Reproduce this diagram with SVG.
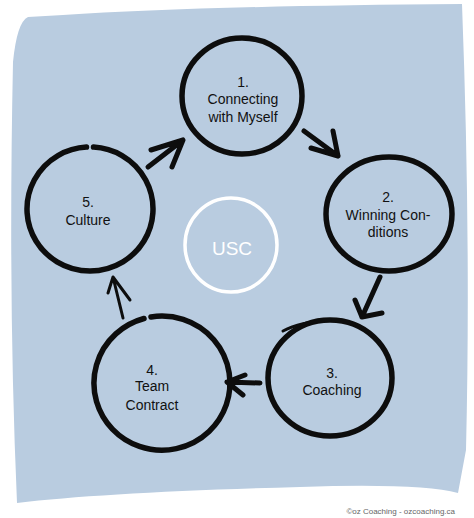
<svg xmlns="http://www.w3.org/2000/svg" width="474" height="518" viewBox="0 0 474 518">
<style>
.ring{fill:none;stroke:#0d0d0d;stroke-width:5.5;stroke-linecap:round}
.arr{fill:none;stroke:#0d0d0d;stroke-width:5;stroke-linecap:round;stroke-linejoin:round}
.lbl{font-family:"Liberation Sans","Noto Sans",sans-serif;font-size:14px;fill:#111;text-anchor:middle}
</style>
<rect width="474" height="518" fill="#ffffff"/>
<path d="M28,17 L63,15 Q200,6 462,4 Q471,240 466,450 L458,493 Q420,483 300,487 Q110,492 17,503 Q8,300 13,62 Q17,22 28,17 Z" fill="#b9cce0"/>
<g id="usc">
<ellipse cx="231" cy="245" rx="46" ry="47" fill="none" stroke="#ffffff" stroke-width="3.5"/>
<text x="232" y="255" font-family="Liberation Sans,sans-serif" font-size="19" fill="#ffffff" text-anchor="middle">USC</text>
</g>
<g id="node1">
<ellipse class="ring" cx="242" cy="96" rx="60" ry="58"/>
<text class="lbl" x="243" y="87">1.</text>
<text class="lbl" x="243" y="104">Connecting</text>
<text class="lbl" x="243" y="122">with Myself</text>
</g>
<g id="node2">
<ellipse class="ring" cx="389" cy="214" rx="63" ry="57"/>
<text class="lbl" x="388" y="202">2.</text>
<text class="lbl" x="388" y="220">Winning Con-</text>
<text class="lbl" x="388" y="237">ditions</text>
</g>
<g id="node3">
<ellipse class="ring" cx="330" cy="378" rx="62" ry="58"/>
<path d="M283,331 Q300,322 330,320" fill="none" stroke="#0d0d0d" stroke-width="3" stroke-linecap="round"/>
<text class="lbl" x="332" y="378">3.</text>
<text class="lbl" x="332" y="395">Coaching</text>
</g>
<g id="node4">
<path class="ring" d="M151,317 A68,67 0 1 1 144,318.5"/>
<text class="lbl" x="152" y="375">4.</text>
<text class="lbl" x="152" y="391">Team</text>
<text class="lbl" x="152" y="410">Contract</text>
</g>
<g id="node5">
<path class="ring" d="M93.5,147.1 A63,62 0 1 1 86.5,147.1"/>
<text class="lbl" x="88" y="207">5.</text>
<text class="lbl" x="88" y="225">Culture</text>
</g>
<g id="connectors">
<path class="arr" d="M304,131 L338,156 M333,131 L338,156 L311,148"/>
<path class="arr" d="M380,277 L362,317 M355,300 L362,317 L382,313"/>
<path class="arr" d="M260,383 L227,382 M245,375 L227,382 L243,395"/>
<path class="arr" style="stroke-width:3" d="M123,318 L113,277 M108,293 L113,277 L130,300"/>
<path class="arr" d="M148,167 L183,140 M151,150 L183,140 L172,167"/>
</g>
<text x="455" y="514" font-family="Liberation Sans,sans-serif" font-size="8" fill="#666" text-anchor="end">©oz Coaching - ozcoaching.ca</text>
</svg>
